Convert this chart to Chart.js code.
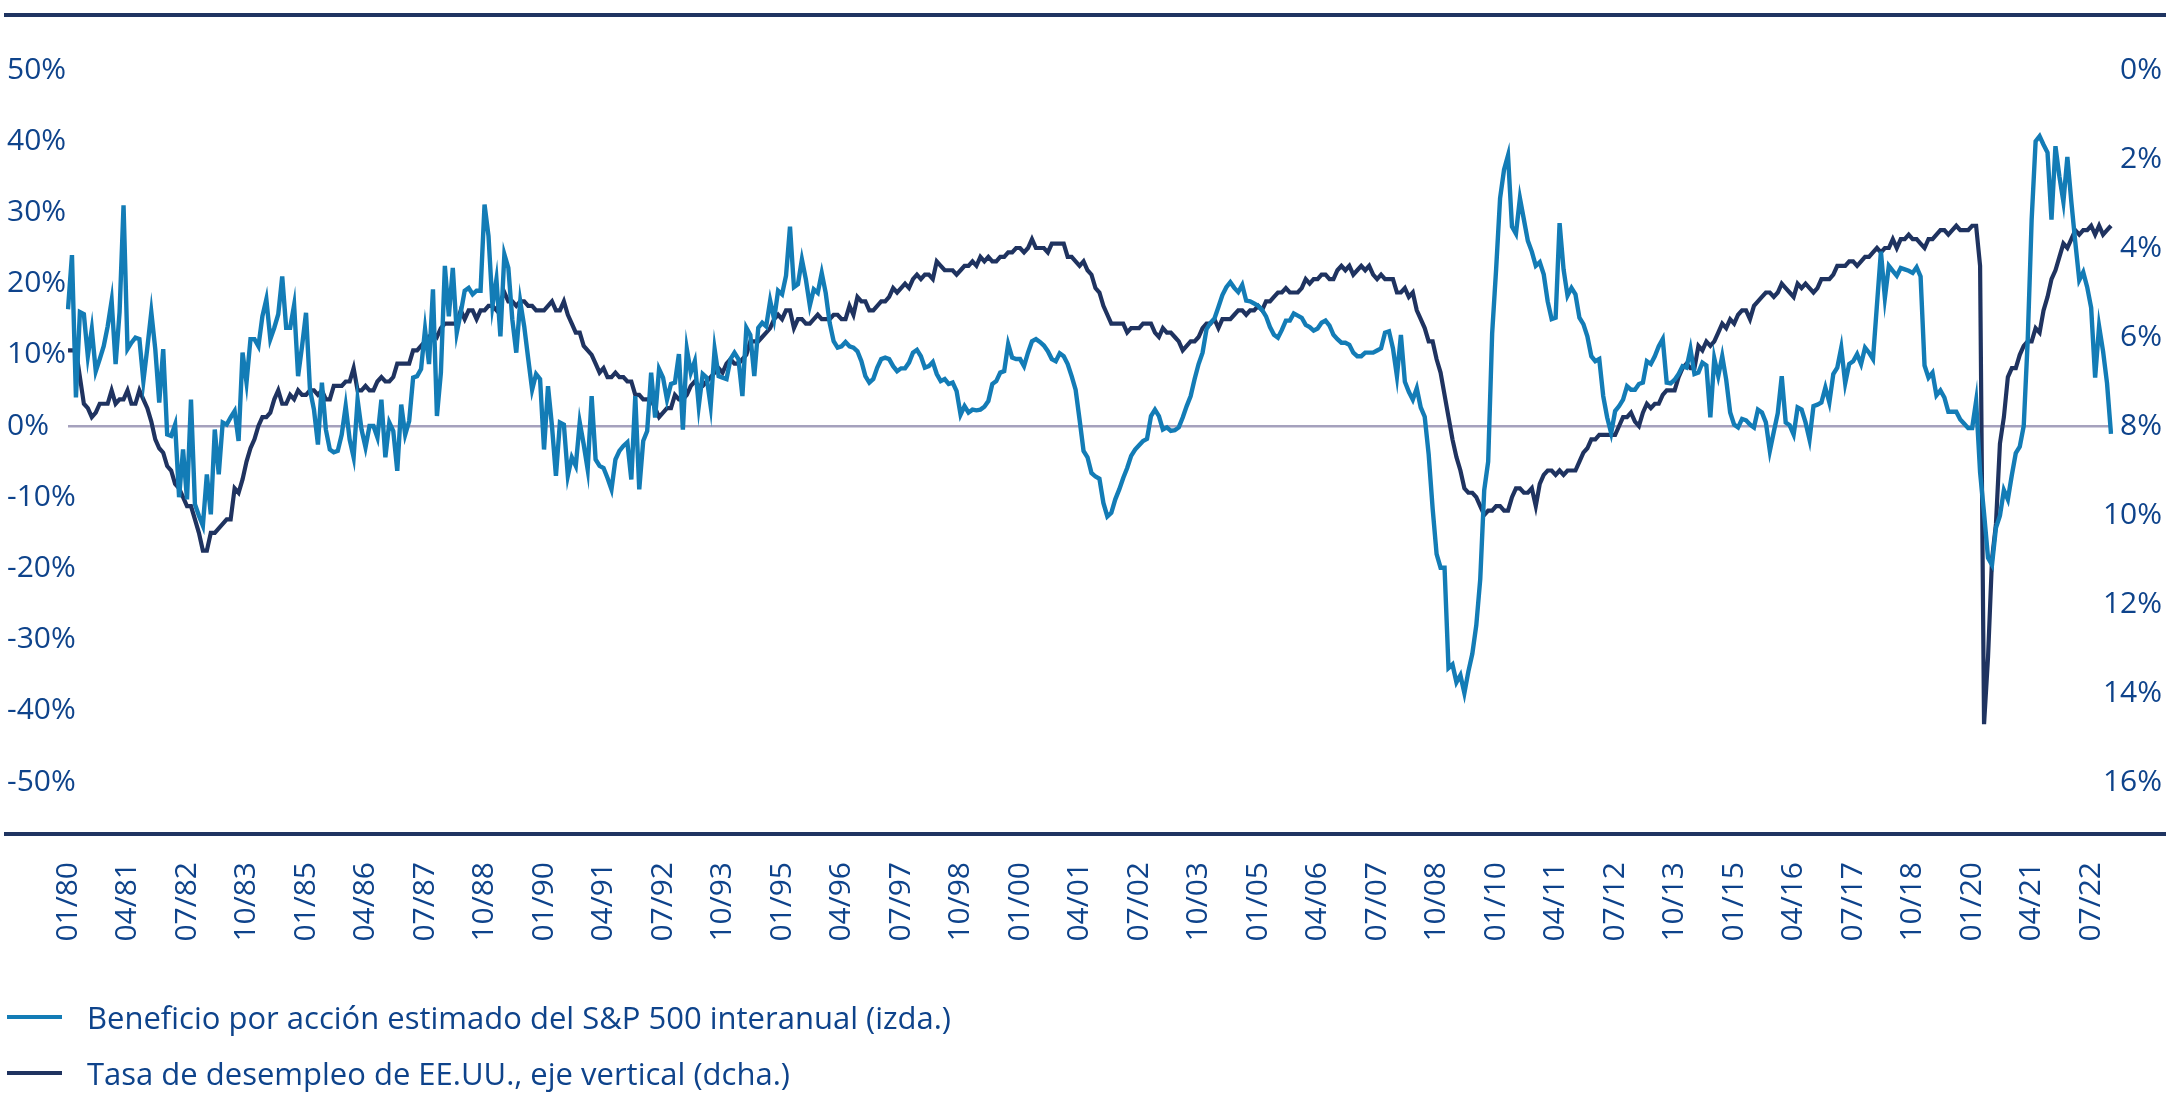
<!DOCTYPE html>
<html>
<head>
<meta charset="utf-8">
<script src="https://cdn.jsdelivr.net/npm/chart.js@4.4.0/dist/chart.umd.min.js"></script>
<style>
  body { margin: 0; background: #fff; }
  #wrap { position: relative; width: 2170px; height: 1098px; }
  #legend { position: absolute; left: 7px; top: 989px; font-family: 'Open Sans', sans-serif; font-size: 31px; color: #0e438b; }
  .row { display: flex; align-items: center; height: 56px; white-space: nowrap; }
  .swatch { width: 55px; height: 4px; margin-right: 25px; }
</style>
</head>
<body>
<div id="wrap">
  <canvas id="chart" width="2170" height="1098"></canvas>
  <div id="legend"></div>
</div>
<script>
'use strict';

// monthly data, 01/1980 - 12/2022
const firstYear = 1980;
const lastYear = 2022;

const tickLabels = ['01/80', '04/81', '07/82', '10/83', '01/85', '04/86', '07/87', '10/88', '01/90',
  '04/91', '07/92', '10/93', '01/95', '04/96', '07/97', '10/98', '01/00', '04/01', '07/02', '10/03',
  '01/05', '04/06', '07/07', '10/08', '01/10', '04/11', '07/12', '10/13', '01/15', '04/16', '07/17',
  '10/18', '01/20', '04/21', '07/22'];

const seriesNames = ['Beneficio por acción estimado del S&P 500 interanual (izda.)',
  'Tasa de desempleo de EE.UU., eje vertical (dcha.)'];

// S&P 500 estimated EPS, year over year (%), left axis
const eps1980s = [16.4, 24.0, 4.0, 16.0, 15.7, 9.8, 13.6, 7.7, 9.4, 11.2, 14.0, 17.6,
  8.7, 16.0, 31.0, 10.8, 11.7, 12.4, 12.2, 6.3, 11.0, 16.0, 10.8, 3.3,
  10.8, -1.2, -1.4, 0.2, -10.0, -3.3, -10.3, 3.7, -11.0, -12.6, -14.0, -6.8,
  -12.4, -0.5, -6.8, 0.5, 0.2, 1.2, 2.1, -2.1, 10.3, 6.1, 12.2, 12.2,
  11.2, 15.4, 17.8, 12.2, 13.8, 15.7, 21.0, 13.8, 13.8, 17.0, 7.0, 11.2,
  15.9, 5.1, 2.3, -2.6, 6.1, -0.5, -3.3, -3.7, -3.5, -1.2, 2.8, -1.9,
  -4.4, 3.7, -0.5, -3.0, 0.0, 0.0, -1.6, 3.7, -4.4, 0.5, -0.7, -6.3,
  3.0, -1.2, 0.7, 6.8, 7.0, 8.0, 13.6, 8.7, 19.2, 1.4, 7.5, 22.5,
  15.4, 22.2, 13.1, 15.9, 19.0, 19.4, 18.5, 19.0, 19.0, 31.1, 26.7, 16.9,
  20.6, 12.6, 24.1, 22.2, 15.0, 10.3, 17.5, 14.0, 9.5, 5.1, 7.3, 6.6];
const eps1990s = [-3.3, 5.6, 0.0, -7.0, 0.5, 0.2, -7.0, -4.4, -5.6, 0.5, -2.6, -6.1,
  4.2, -4.7, -5.6, -5.9, -7.3, -8.9, -4.7, -3.5, -2.8, -2.3, -7.5, 4.2,
  -8.9, -2.1, -0.7, 7.5, 1.2, 8.0, 6.8, 3.7, 5.9, 6.1, 10.1, -0.5,
  10.8, 7.5, 9.1, 2.8, 7.3, 6.8, 2.8, 10.8, 7.0, 6.8, 6.6, 9.4,
  10.3, 9.4, 4.2, 13.8, 12.8, 7.0, 13.8, 14.5, 14.0, 17.6, 15.0, 19.0,
  18.5, 21.1, 28.0, 19.5, 19.9, 23.4, 20.6, 16.9, 19.2, 18.7, 21.5, 18.7,
  14.5, 11.9, 11.0, 11.2, 11.8, 11.2, 11.0, 10.5, 9.1, 7.0, 6.1, 6.6,
  8.2, 9.4, 9.6, 9.4, 8.4, 7.7, 8.1, 8.1, 8.9, 10.3, 10.7, 9.8,
  8.2, 8.4, 9.0, 7.3, 6.3, 6.6, 5.9, 6.1, 4.9, 1.6, 2.8, 1.9,
  2.3, 2.2, 2.3, 2.7, 3.5, 5.9, 6.3, 7.5, 7.7, 11.5, 9.6, 9.4];
const eps2000s = [9.4, 8.4, 10.3, 11.9, 12.2, 11.8, 11.3, 10.5, 9.4, 9.1, 10.2, 9.8,
  8.7, 7.0, 5.1, 0.9, -3.5, -4.4, -6.6, -7.1, -7.4, -10.8, -12.7, -12.2,
  -10.3, -8.9, -7.3, -5.9, -4.2, -3.3, -2.7, -2.1, -1.8, 1.4, 2.3, 1.4,
  -0.5, -0.2, -0.7, -0.6, -0.2, 1.2, 2.8, 4.2, 6.6, 8.7, 10.3, 13.6,
  14.5, 15.1, 16.7, 18.4, 19.5, 20.2, 19.4, 18.8, 19.8, 17.6, 17.5, 17.2,
  16.9, 16.3, 15.4, 13.9, 12.8, 12.4, 13.5, 14.8, 14.8, 15.8, 15.5, 15.2,
  14.2, 13.9, 13.4, 13.7, 14.5, 14.8, 14.1, 12.8, 12.2, 11.7, 11.7, 11.4,
  10.3, 9.8, 9.8, 10.3, 10.3, 10.3, 10.6, 10.9, 13.1, 13.3, 10.9, 7.0,
  12.8, 6.2, 4.8, 3.7, 5.3, 2.6, 1.3, -4.0, -11.6, -18.0, -19.9, -19.9,
  -34.0, -33.5, -36.0, -35.0, -37.5, -34.5, -32.0, -28.0, -21.5, -9.0, -5.0, 13.0];
const eps2010s = [22.0, 32.0, 36.0, 38.0, 28.0, 27.0, 32.0, 29.0, 26.0, 24.5, 22.5, 23.0,
  21.3, 17.5, 15.0, 15.2, 28.5, 22.0, 18.3, 19.4, 18.5, 15.2, 14.3, 12.6,
  9.8, 9.1, 9.4, 4.2, 1.2, -1.0, 2.1, 2.8, 3.7, 5.6, 5.1, 5.1,
  5.9, 6.1, 9.1, 8.7, 9.8, 11.2, 12.2, 6.1, 6.0, 6.5, 7.3, 8.4,
  8.2, 10.8, 7.3, 7.5, 8.9, 8.5, 1.2, 9.5, 7.0, 9.8, 6.5, 1.9,
  0.2, -0.2, 1.0, 0.8, 0.2, -0.2, 2.3, 1.9, 0.5, -3.5, -0.8, 1.8,
  7.0, 0.5, 0.1, -1.2, 2.6, 2.3, 0.5, -1.9, 2.8, 3.0, 3.3, 5.4,
  3.3, 7.3, 8.2, 11.0, 6.0, 8.7, 9.1, 10.1, 8.7, 11.0, 10.3, 9.4,
  17.0, 24.5, 18.0, 22.5, 21.8, 21.1, 22.2, 22.0, 21.8, 21.5, 22.3, 21.0,
  8.5, 6.8, 7.5, 4.3, 5.0, 4.0, 2.0, 2.0, 2.0, 0.9, 0.3, -0.3];
const eps2020s = [-0.3, 3.5, -6.5, -12.3, -18.5, -19.5, -14.3, -12.6, -9.0, -10.3, -6.9, -3.8,
  -2.9, 0.0, 12.0, 29.0, 40.0, 40.7, 39.5, 38.4, 29.0, 39.3, 35.0, 31.5,
  37.8, 31.5, 25.8, 20.5, 21.6, 19.5, 16.6, 6.8, 14.0, 10.5, 6.0, -1.1];

// US unemployment rate (%), right axis (inverted)
const unemp1980s = [6.3, 6.3, 6.3, 6.9, 7.5, 7.6, 7.8, 7.7, 7.5, 7.5, 7.5, 7.2,
  7.5, 7.4, 7.4, 7.2, 7.5, 7.5, 7.2, 7.4, 7.6, 7.9, 8.3, 8.5,
  8.6, 8.9, 9.0, 9.3, 9.4, 9.6, 9.8, 9.8, 10.1, 10.4, 10.8, 10.8,
  10.4, 10.4, 10.3, 10.2, 10.1, 10.1, 9.4, 9.5, 9.2, 8.8, 8.5, 8.3,
  8.0, 7.8, 7.8, 7.7, 7.4, 7.2, 7.5, 7.5, 7.3, 7.4, 7.2, 7.3,
  7.3, 7.2, 7.2, 7.3, 7.2, 7.4, 7.4, 7.1, 7.1, 7.1, 7.0, 7.0,
  6.7, 7.2, 7.2, 7.1, 7.2, 7.2, 7.0, 6.9, 7.0, 7.0, 6.9, 6.6,
  6.6, 6.6, 6.6, 6.3, 6.3, 6.2, 6.1, 6.0, 5.9, 6.0, 5.8, 5.7,
  5.7, 5.7, 5.7, 5.4, 5.6, 5.4, 5.4, 5.6, 5.4, 5.4, 5.3, 5.3,
  5.4, 5.2, 5.0, 5.2, 5.2, 5.3, 5.2, 5.2, 5.3, 5.3, 5.4, 5.4];
const unemp1990s = [5.4, 5.3, 5.2, 5.4, 5.4, 5.2, 5.5, 5.7, 5.9, 5.9, 6.2, 6.3,
  6.4, 6.6, 6.8, 6.7, 6.9, 6.9, 6.8, 6.9, 6.9, 7.0, 7.0, 7.3,
  7.3, 7.4, 7.4, 7.4, 7.6, 7.8, 7.7, 7.6, 7.6, 7.3, 7.4, 7.4,
  7.3, 7.1, 7.0, 7.1, 7.1, 7.0, 6.9, 6.8, 6.7, 6.8, 6.6, 6.5,
  6.6, 6.6, 6.5, 6.4, 6.1, 6.1, 6.1, 6.0, 5.9, 5.8, 5.6, 5.5,
  5.6, 5.4, 5.4, 5.8, 5.6, 5.6, 5.7, 5.7, 5.6, 5.5, 5.6, 5.6,
  5.6, 5.5, 5.5, 5.6, 5.6, 5.3, 5.5, 5.1, 5.2, 5.2, 5.4, 5.4,
  5.3, 5.2, 5.2, 5.1, 4.9, 5.0, 4.9, 4.8, 4.9, 4.7, 4.6, 4.7,
  4.6, 4.6, 4.7, 4.3, 4.4, 4.5, 4.5, 4.5, 4.6, 4.5, 4.4, 4.4,
  4.3, 4.4, 4.2, 4.3, 4.2, 4.3, 4.3, 4.2, 4.2, 4.1, 4.1, 4.0];
const unemp2000s = [4.0, 4.1, 4.0, 3.8, 4.0, 4.0, 4.0, 4.1, 3.9, 3.9, 3.9, 3.9,
  4.2, 4.2, 4.3, 4.4, 4.3, 4.5, 4.6, 4.9, 5.0, 5.3, 5.5, 5.7,
  5.7, 5.7, 5.7, 5.9, 5.8, 5.8, 5.8, 5.7, 5.7, 5.7, 5.9, 6.0,
  5.8, 5.9, 5.9, 6.0, 6.1, 6.3, 6.2, 6.1, 6.1, 6.0, 5.8, 5.7,
  5.7, 5.6, 5.8, 5.6, 5.6, 5.6, 5.5, 5.4, 5.4, 5.5, 5.4, 5.4,
  5.3, 5.4, 5.2, 5.2, 5.1, 5.0, 5.0, 4.9, 5.0, 5.0, 5.0, 4.9,
  4.7, 4.8, 4.7, 4.7, 4.6, 4.6, 4.7, 4.7, 4.5, 4.4, 4.5, 4.4,
  4.6, 4.5, 4.4, 4.5, 4.4, 4.6, 4.7, 4.6, 4.7, 4.7, 4.7, 5.0,
  5.0, 4.9, 5.1, 5.0, 5.4, 5.6, 5.8, 6.1, 6.1, 6.5, 6.8, 7.3,
  7.8, 8.3, 8.7, 9.0, 9.4, 9.5, 9.5, 9.6, 9.8, 10.0, 9.9, 9.9];
const unemp2010s = [9.8, 9.8, 9.9, 9.9, 9.6, 9.4, 9.4, 9.5, 9.5, 9.4, 9.8, 9.3,
  9.1, 9.0, 9.0, 9.1, 9.0, 9.1, 9.0, 9.0, 9.0, 8.8, 8.6, 8.5,
  8.3, 8.3, 8.2, 8.2, 8.2, 8.2, 8.2, 8.0, 7.8, 7.8, 7.7, 7.9,
  8.0, 7.7, 7.5, 7.6, 7.5, 7.5, 7.3, 7.2, 7.2, 7.2, 6.9, 6.7,
  6.6, 6.7, 6.7, 6.2, 6.3, 6.1, 6.2, 6.1, 5.9, 5.7, 5.8, 5.6,
  5.7, 5.5, 5.4, 5.4, 5.6, 5.3, 5.2, 5.1, 5.0, 5.0, 5.1, 5.0,
  4.8, 4.9, 5.0, 5.1, 4.8, 4.9, 4.8, 4.9, 5.0, 4.9, 4.7, 4.7,
  4.7, 4.6, 4.4, 4.4, 4.4, 4.3, 4.3, 4.4, 4.3, 4.2, 4.2, 4.1,
  4.0, 4.1, 4.0, 4.0, 3.8, 4.0, 3.8, 3.8, 3.7, 3.8, 3.8, 3.9,
  4.0, 3.8, 3.8, 3.7, 3.6, 3.6, 3.7, 3.6, 3.5, 3.6, 3.6, 3.6];
const unemp2020s = [3.5, 3.5, 4.4, 14.7, 13.2, 11.0, 10.2, 8.4, 7.8, 6.9, 6.7, 6.7,
  6.4, 6.2, 6.1, 6.1, 5.8, 5.9, 5.4, 5.1, 4.7, 4.5, 4.2, 3.9,
  4.0, 3.8, 3.6, 3.7, 3.6, 3.6, 3.5, 3.7, 3.5, 3.7, 3.6, 3.5];

let epsValues = eps1980s.concat(eps1990s, eps2000s, eps2010s, eps2020s);
let unempValues = unemp1980s.concat(unemp1990s, unemp2000s, unemp2010s, unemp2020s);

let months = [];
for (let y = firstYear; y <= lastYear; y++) {
  for (let m = 1; m <= 12; m++) {
    months.push(String(m).padStart(2, '0') + '/' + String(y % 100).padStart(2, '0'));
  }
}

const textColor = '#0e438b';
const epsColor = '#137cb6';
const unempColor = '#1f3360';

Chart.defaults.font.family = "'Open Sans', sans-serif";
Chart.defaults.font.size = 30;
Chart.defaults.color = textColor;

// the two dark rules above and below the plot
const rulesPlugin = {
  id: 'rules',
  afterDraw(chart) {
    let ctx = chart.ctx;
    let area = chart.chartArea;
    ctx.save();
    ctx.strokeStyle = '#1f3461';
    ctx.lineWidth = 4;
    [area.top - 55, area.bottom + 52].forEach(function (y) {
      ctx.beginPath();
      ctx.moveTo(4, y);
      ctx.lineTo(chart.width - 4, y);
      ctx.stroke();
    });
    ctx.restore();
  }
};

// y labels reach a little into the plot, so don't clip them to the axis box
function noLabelClip(scale) {
  scale._computeLabelArea = function () { return undefined; };
}

let ctx = document.getElementById('chart').getContext('2d');
let chart = new Chart(ctx, {
  type: 'line',
  data: {
    labels: months,
    datasets: [{
      label: seriesNames[0],
      data: epsValues,
      borderColor: epsColor,
      backgroundColor: epsColor,
      borderWidth: 4.4,
      pointRadius: 0,
      tension: 0,
      yAxisID: 'y'
    }, {
      label: seriesNames[1],
      data: unempValues,
      borderColor: unempColor,
      backgroundColor: unempColor,
      borderWidth: 4.2,
      pointRadius: 0,
      tension: 0,
      yAxisID: 'y1'
    }]
  },
  options: {
    responsive: false,
    animation: false,
    devicePixelRatio: 1,
    layout: { padding: { top: 70, left: 7, right: 8, bottom: 155 } },
    plugins: { legend: { display: false }, tooltip: { enabled: false } },
    scales: {
      x: {
        grid: { display: false, drawTicks: false },
        border: { display: false },
        afterFit: function (scale) {
          scale.height = 161;
          scale.paddingLeft = 0;
          scale.paddingRight = 0;
        },
        ticks: {
          autoSkip: false,
          minRotation: 90,
          maxRotation: 90,
          padding: 80,
          callback: function (val, idx) {
            return tickLabels.includes(months[idx]) ? months[idx] : null;
          }
        }
      },
      y: {
        position: 'left',
        min: -50,
        max: 50,
        border: { display: false },
        afterFit: function (scale) { scale.width = 61; noLabelClip(scale); },
        grid: {
          drawTicks: false,
          lineWidth: 2.5,
          color: function (c) { return c.tick && c.tick.value === 0 ? '#a5a1bd' : 'rgba(0,0,0,0)'; }
        },
        ticks: { stepSize: 10, crossAlign: 'far', callback: function (v) { return v + '%'; } }
      },
      y1: {
        position: 'right',
        min: 0,
        max: 16,
        reverse: true,
        border: { display: false },
        afterFit: function (scale) { scale.width = 51; noLabelClip(scale); },
        grid: { display: false, drawTicks: false },
        ticks: { stepSize: 2, crossAlign: 'far', callback: function (v) { return v + '%'; } }
      }
    }
  },
  plugins: [rulesPlugin]
});

// legend, one item per row
let legendBox = document.getElementById('legend');
chart.data.datasets.forEach(function (ds) {
  let row = document.createElement('div');
  row.className = 'row';
  let swatch = document.createElement('span');
  swatch.className = 'swatch';
  swatch.style.background = ds.borderColor;
  let text = document.createElement('span');
  text.textContent = ds.label;
  row.appendChild(swatch);
  row.appendChild(text);
  legendBox.appendChild(row);
});
</script>
</body>
</html>
